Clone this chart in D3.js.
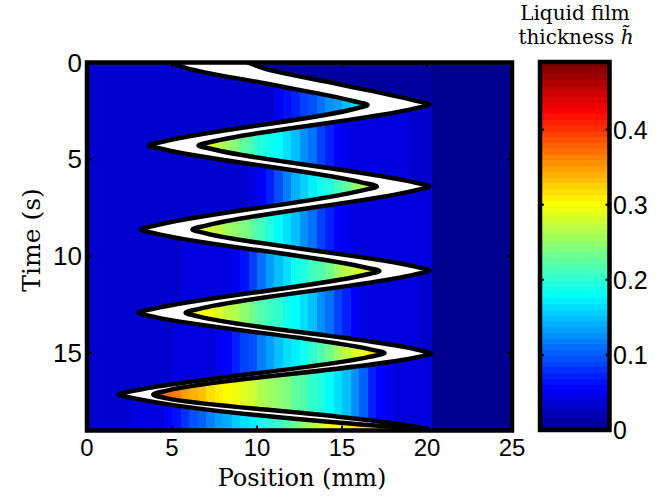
<!DOCTYPE html>
<html>
<head>
<meta charset="utf-8">
<script src="https://cdn.jsdelivr.net/npm/d3@7/dist/d3.min.js"></script>
<style>
html,body{margin:0;padding:0;background:#fff;}
svg{display:block;}
</style>
</head>
<body>
<svg id="chart" width="664" height="497"></svg>
<script>
// ---------------- data ----------------
const positionTicks = [0, 5, 10, 15, 20, 25];
const timeTicks = [0, 5, 10, 15];
const thicknessTicks = [0, 0.1, 0.2, 0.3, 0.4];
const positionDomain = [0, 25];
const timeDomain = [0, 19];
const thicknessDomain = [0, 0.49];

// left edge of the liquid plug (mm) vs time (s)
const rearTime = [0, 0.3, 1.1, 2.0, 2.2, 2.4, 4.08, 4.28, 4.48, 6.2, 6.4, 6.6, 8.42, 8.62, 8.82,
  10.57, 10.77, 10.97, 12.72, 12.92, 13.12, 14.8, 15.0, 15.2, 16.94, 17.14, 17.34, 18.6, 18.8, 18.92];
const rearPosition = [4.9, 5.9, 10.6, 15.7, 16.5, 15.7, 4.5, 3.63, 4.5, 16.2, 17.05, 16.2, 4.0, 3.16, 4.0,
  16.3, 17.2, 16.3, 3.9, 3.0, 3.9, 16.6, 17.5, 16.6, 2.8, 1.85, 2.8, 14.9, 17.8, 20.0];
// right edge of the liquid plug
const frontTime = [0, 0.3, 1.1, 1.97, 2.17, 2.37, 4.08, 4.28, 4.48, 6.2, 6.4, 6.6, 8.42, 8.62, 8.82,
  10.54, 10.74, 10.94, 12.72, 12.92, 13.12, 14.82, 15.02, 15.22, 16.94, 17.14, 17.34, 18.3, 18.7, 18.92];
const frontPosition = [9.45, 10.4, 14.7, 19.3, 20.15, 19.3, 7.4, 6.56, 7.4, 19.3, 20.15, 19.3, 7.0, 6.2, 7.0,
  19.3, 20.15, 19.3, 6.6, 5.8, 6.6, 19.4, 20.25, 19.4, 4.7, 3.9, 4.7, 14.9, 18.6, 20.0];
// times where the plug reverses
const turnTimes = [2.2, 4.28, 6.4, 8.62, 10.76, 12.92, 15.01, 17.14];

// film left behind by each pass: [position mm, thickness]
const filmPass1 = [[0, 0.035], [10.8, 0.035], [11.5, 0.06], [13, 0.09], [14.5, 0.13], [16, 0.17], [17, 0.19]];
const filmPass2 = [[0, 0.31], [6.5, 0.31], [7.5, 0.28], [8.5, 0.245], [10, 0.2], [11.5, 0.175], [12.5, 0.14], [13.5, 0.1], [14.5, 0.065], [15.5, 0.04], [25, 0.035]];
const filmPass3 = [[0, 0.035], [9.5, 0.035], [10.5, 0.06], [11.8, 0.12], [13, 0.17], [14, 0.19], [15.3, 0.23], [16.5, 0.27], [17.5, 0.28]];
const filmPass4 = [[0, 0.31], [6, 0.31], [7.8, 0.27], [9.4, 0.235], [11, 0.19], [12.5, 0.14], [14, 0.08], [15.3, 0.045], [25, 0.035]];
const filmPass5 = [[0, 0.035], [8.5, 0.04], [9.4, 0.07], [10.6, 0.13], [12.1, 0.18], [13.7, 0.22], [15.3, 0.27], [16.8, 0.3], [17.5, 0.31]];
const filmPass6 = [[0, 0.32], [5.8, 0.32], [7, 0.3], [8.4, 0.27], [10.6, 0.21], [12.4, 0.18], [13.7, 0.13], [15.3, 0.07], [16.3, 0.04], [25, 0.035]];
const filmPass7 = [[0, 0.035], [7.5, 0.04], [8.5, 0.065], [9.8, 0.1], [11, 0.14], [12.4, 0.18], [13.7, 0.22], [15.3, 0.27], [16.3, 0.3], [17.2, 0.34], [18, 0.35]];
const filmPass8 = [[0, 0.39], [3.9, 0.39], [5, 0.37], [6, 0.345], [7.3, 0.32], [8.8, 0.295], [10.3, 0.265], [11.9, 0.235], [13.4, 0.2], [14.7, 0.17], [15.5, 0.14], [16.8, 0.07], [18, 0.04], [25, 0.035]];
const filmPass9 = [[0, 0.035], [4, 0.04], [5, 0.06], [6.5, 0.1], [8, 0.14], [9.5, 0.17], [11, 0.2], [12.5, 0.24], [13.8, 0.28], [15, 0.31], [20, 0.34]];
const filmPrewetted = 0.035;
const filmAhead = 0.012;
const filmDry = 0.005;
const dryEdge = 20.3;

// ---------------- layout ----------------
const plot = {left: 87, right: 512, top: 62.5, bottom: 430.5};
const bar = {left: 540, right: 609.5, top: 62, bottom: 430};
const svg = d3.select("#chart");

const xScale = d3.scaleLinear().domain(positionDomain).range([plot.left, plot.right]);
const yScale = d3.scaleLinear().domain(timeDomain).range([plot.top, plot.bottom]);
const cScale = d3.scaleLinear().domain(thicknessDomain).range([bar.bottom, bar.top]);

// MATLAB jet(64)
function jet64() {
  const n = 16, m = 64;
  const u = [...d3.range(1, 17).map(k => k / 16), ...Array(15).fill(1), ...d3.range(16, 0, -1).map(k => k / 16)];
  const g0 = Math.ceil(n / 2) - (m % 4 === 1 ? 1 : 0);
  const R = new Array(m).fill(0), G = new Array(m).fill(0), B = new Array(m).fill(0);
  for (let j = 0; j < u.length; j++) {
    const gi = g0 + j + 1, ri = gi + n, bi = gi - n;
    if (ri <= m) R[ri - 1] = u[j];
    if (gi <= m) G[gi - 1] = u[j];
    if (bi >= 1) B[bi - 1] = u[j];
  }
  return d3.range(m).map(i => d3.rgb(Math.round(R[i] * 255), Math.round(G[i] * 255), Math.round(B[i] * 255)).formatHex());
}
const jetColors = jet64();
const colorScale = d3.scaleQuantize().domain(thicknessDomain).range(jetColors);

// same monotone cubic as d3.curveMonotoneY, for evaluating the plug edges
function monotoneFn(ts, xs) {
  const n = ts.length, m = new Array(n);
  for (let i = 1; i < n - 1; i++) {
    const h0 = ts[i] - ts[i - 1], h1 = ts[i + 1] - ts[i];
    const s0 = (xs[i] - xs[i - 1]) / h0, s1 = (xs[i + 1] - xs[i]) / h1;
    const p = (s0 * h1 + s1 * h0) / (h0 + h1);
    m[i] = (Math.sign(s0) + Math.sign(s1)) * Math.min(Math.abs(s0), Math.abs(s1), 0.5 * Math.abs(p)) || 0;
  }
  m[0] = (3 * (xs[1] - xs[0]) / (ts[1] - ts[0]) - m[1]) / 2;
  m[n - 1] = (3 * (xs[n - 1] - xs[n - 2]) / (ts[n - 1] - ts[n - 2]) - m[n - 2]) / 2;
  return function (t) {
    if (t <= ts[0]) return xs[0];
    if (t >= ts[n - 1]) return xs[n - 1];
    let i = d3.bisectRight(ts, t) - 1;
    const h = ts[i + 1] - ts[i], u = (t - ts[i]) / h;
    const u2 = u * u, u3 = u2 * u;
    return (2 * u3 - 3 * u2 + 1) * xs[i] + (u3 - 2 * u2 + u) * h * m[i] + (-2 * u3 + 3 * u2) * xs[i + 1] + (u3 - u2) * h * m[i + 1];
  };
}
const rearAtTime = monotoneFn(rearTime, rearPosition);
const frontAtTime = monotoneFn(frontTime, frontPosition);

const filmPasses = [filmPass1, filmPass2, filmPass3, filmPass4, filmPass5, filmPass6, filmPass7, filmPass8, filmPass9]
  .map(arr => d3.scaleLinear().domain(arr.map(d => d[0])).range(arr.map(d => d[1])).clamp(true));

const passStarts = [0, ...turnTimes];
const passEnds = [...turnTimes, timeDomain[1]];
function passFor(t, rightward) {
  let best = -1, bestD = Infinity;
  for (let k = 0; k < passStarts.length; k++) {
    if ((k % 2 === 0) !== rightward) continue;
    const d = t < passStarts[k] ? passStarts[k] - t : (t > passEnds[k] ? t - passEnds[k] : 0);
    if (d < bestD) { bestD = d; best = k; }
  }
  return best;
}

// ---------------- heat map ----------------
const dt = 0.01;
const times = d3.range(0, timeDomain[1] + dt / 2, dt);
const rearArr = times.map(rearAtTime), frontArr = times.map(frontAtTime);
const colEdges = Array.from(new Set([...d3.range(0, 25.0001, 0.5).map(v => +v.toFixed(3)), dryEdge])).sort((a, b) => a - b);

svg.append("defs").append("clipPath").attr("id", "plotClip")
  .append("rect").attr("x", plot.left).attr("y", plot.top)
  .attr("width", plot.right - plot.left).attr("height", plot.bottom - plot.top);

const heat = svg.append("g").attr("clip-path", "url(#plotClip)");
const cells = [];
for (let c = 0; c < colEdges.length - 1; c++) {
  const x0 = colEdges[c], x1 = colEdges[c + 1], xc = (x0 + x1) / 2;
  const labels = new Array(times.length);
  let state = null;
  for (let i = 0; i < times.length; i++) {
    const inside = rearArr[i] <= xc && xc <= frontArr[i];
    if (inside) { labels[i] = null; continue; }
    const leftSide = xc < rearArr[i];
    if (i === 0) {
      state = leftSide ? filmPrewetted : (xc < dryEdge ? filmAhead : filmDry);
    } else if (labels[i - 1] === null) {
      const k = passFor(times[i], leftSide);
      state = filmPasses[k](xc);
    }
    labels[i] = state;
  }
  // plug periods: first half previous value, second half next value (hidden under the plug)
  let i = 0;
  while (i < labels.length) {
    if (labels[i] !== null) { i++; continue; }
    let j = i; while (j < labels.length && labels[j] === null) j++;
    const prev = i > 0 ? labels[i - 1] : (j < labels.length ? labels[j] : filmPrewetted);
    const next = j < labels.length ? labels[j] : prev;
    const mid = Math.floor((i + j) / 2);
    for (let q = i; q < j; q++) labels[q] = q < mid ? prev : next;
    i = j;
  }
  let s = 0;
  for (let q = 1; q <= labels.length; q++) {
    if (q === labels.length || colorScale(labels[q]) !== colorScale(labels[s])) {
      cells.push({x0, x1, t0: times[s] - dt / 2, t1: (q === labels.length ? times[q - 1] + dt : times[q]) - dt / 2, v: labels[s]});
      s = q;
    }
  }
}
heat.selectAll("rect").data(cells).join("rect")
  .attr("x", d => xScale(d.x0))
  .attr("y", d => yScale(Math.max(0, d.t0)))
  .attr("width", d => xScale(d.x1) - xScale(d.x0) + 0.6)
  .attr("height", d => yScale(Math.min(timeDomain[1], d.t1)) - yScale(Math.max(0, d.t0)) + 0.6)
  .attr("fill", d => colorScale(d.v))
  .attr("shape-rendering", "crispEdges");

// ---------------- liquid plug ----------------
const line = d3.line().x(d => xScale(d[1])).y(d => yScale(d[0])).curve(d3.curveMonotoneY);
const rearPts = rearTime.map((t, i) => [t, rearPosition[i]]);
const frontPts = frontTime.map((t, i) => [t, frontPosition[i]]);
const plugPath = line(rearPts) + line(frontPts.slice().reverse()).replace(/^M/, "L") + "Z";
const plugG = svg.append("g").attr("clip-path", "url(#plotClip)");
plugG.append("path").attr("d", plugPath).attr("fill", "#fff").attr("stroke", "none");
[rearPts, frontPts].forEach(pts => {
  plugG.append("path").attr("d", line(pts)).attr("fill", "none")
    .attr("stroke", "#000").attr("stroke-width", 4.5).attr("stroke-linejoin", "round").attr("stroke-linecap", "round");
});

// ---------------- axes frame & ticks ----------------
const axG = svg.append("g");
axG.append("rect").attr("x", plot.left).attr("y", plot.top)
  .attr("width", plot.right - plot.left).attr("height", plot.bottom - plot.top)
  .attr("fill", "none").attr("stroke", "#000").attr("stroke-width", 4.5);
const tickLen = 5;
positionTicks.forEach(v => {
  const x = xScale(v);
  axG.append("line").attr("x1", x).attr("x2", x).attr("y1", plot.bottom).attr("y2", plot.bottom - tickLen).attr("stroke", "#000").attr("stroke-width", 2);
  axG.append("line").attr("x1", x).attr("x2", x).attr("y1", plot.top).attr("y2", plot.top + tickLen).attr("stroke", "#000").attr("stroke-width", 2);
  axG.append("text").attr("x", x).attr("y", 456).attr("text-anchor", "middle")
    .attr("font-family", "Liberation Sans, Arial, sans-serif").attr("font-size", 24).text(v);
});
timeTicks.forEach(v => {
  const y = yScale(v);
  axG.append("line").attr("x1", plot.left).attr("x2", plot.left + tickLen).attr("y1", y).attr("y2", y).attr("stroke", "#000").attr("stroke-width", 2);
  axG.append("line").attr("x1", plot.right).attr("x2", plot.right - tickLen).attr("y1", y).attr("y2", y).attr("stroke", "#000").attr("stroke-width", 2);
  axG.append("text").attr("x", 82).attr("y", y).attr("text-anchor", "end").attr("dominant-baseline", "central")
    .attr("font-family", "Liberation Sans, Arial, sans-serif").attr("font-size", 26).text(v);
});
axG.append("text").attr("x", 302).attr("y", 486).attr("text-anchor", "middle")
  .attr("font-family", "DejaVu Serif, serif").attr("font-size", 24).text("Position (mm)");
axG.append("text").attr("transform", "translate(40,240) rotate(-90)").attr("text-anchor", "middle")
  .attr("font-family", "DejaVu Serif, serif").attr("font-size", 25).text("Time (s)");

// ---------------- colour bar ----------------
const barG = svg.append("g");
const step = (thicknessDomain[1] - thicknessDomain[0]) / jetColors.length;
barG.selectAll("rect.band").data(jetColors).join("rect").attr("class", "band")
  .attr("x", bar.left).attr("width", bar.right - bar.left)
  .attr("y", (d, i) => cScale((i + 1) * step))
  .attr("height", (d, i) => cScale(i * step) - cScale((i + 1) * step) + 0.6)
  .attr("fill", d => d).attr("shape-rendering", "crispEdges");
barG.append("rect").attr("x", bar.left).attr("y", bar.top)
  .attr("width", bar.right - bar.left).attr("height", bar.bottom - bar.top)
  .attr("fill", "none").attr("stroke", "#000").attr("stroke-width", 4.5);
thicknessTicks.forEach(v => {
  const y = cScale(v);
  barG.append("line").attr("x1", bar.left).attr("x2", bar.left + 4).attr("y1", y).attr("y2", y).attr("stroke", "#000").attr("stroke-width", 2);
  barG.append("line").attr("x1", bar.right).attr("x2", bar.right - 4).attr("y1", y).attr("y2", y).attr("stroke", "#000").attr("stroke-width", 2);
  barG.append("text").attr("x", 613).attr("y", y).attr("dominant-baseline", "central")
    .attr("font-family", "Liberation Sans, Arial, sans-serif").attr("font-size", 25).text(v);
});
const title = barG.append("text").attr("text-anchor", "middle")
  .attr("font-family", "DejaVu Serif, serif").attr("font-size", 20);
title.append("tspan").attr("x", 575).attr("y", 20).text("Liquid film");
title.append("tspan").attr("x", 576).attr("y", 44).text("thickness ");
title.append("tspan").attr("font-style", "italic").text("h\u0303");
</script>
</body>
</html>
